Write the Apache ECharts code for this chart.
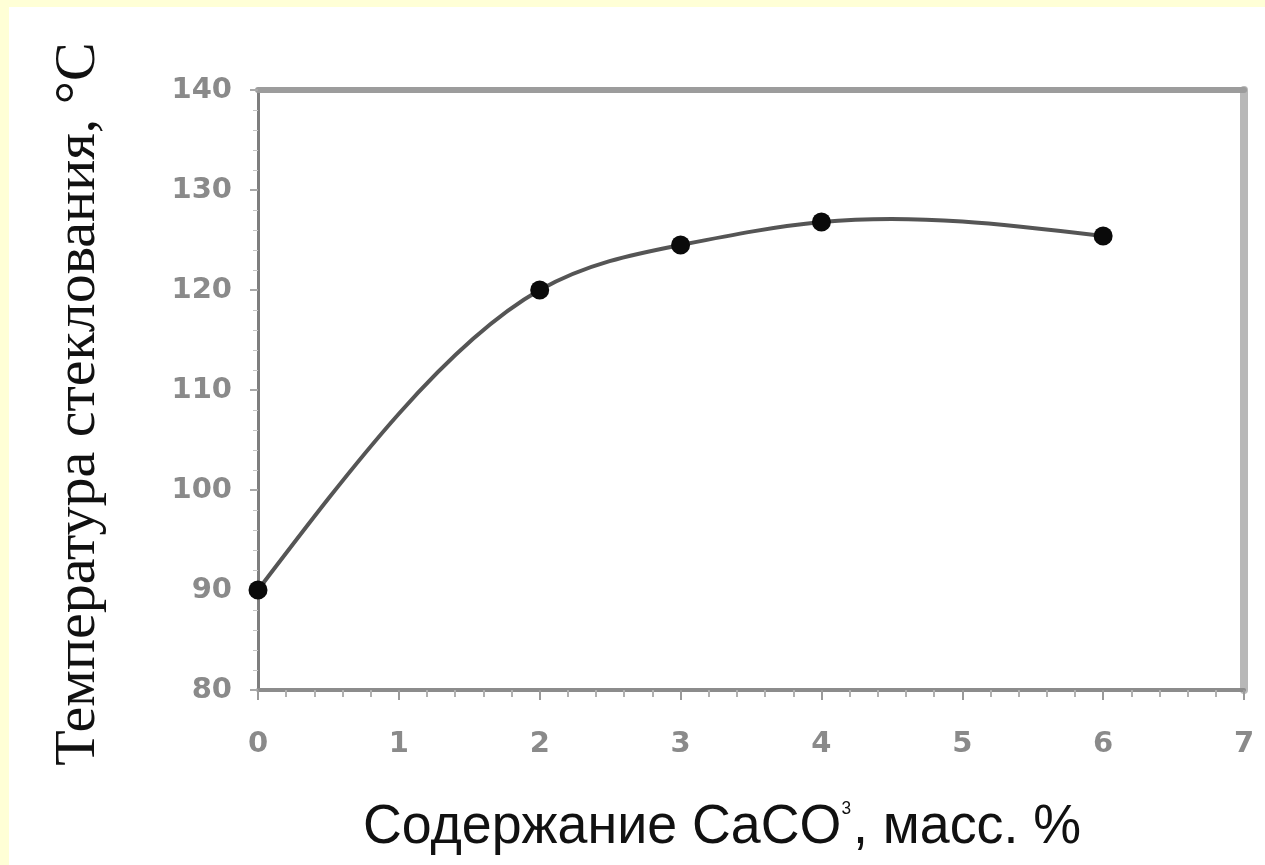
<!DOCTYPE html>
<html>
<head>
<meta charset="utf-8">
<script src="https://cdn.jsdelivr.net/npm/echarts@6/dist/echarts.min.js"></script>
<style>
  html, body { margin: 0; padding: 0; background: #ffffff; }
  #wrap { position: relative; width: 1265px; height: 865px; overflow: hidden; background: #ffffff; }
  #chart { position: absolute; left: 0; top: 0; width: 1265px; height: 865px; }
  .edge { position: absolute; background: #ffffd6; }
</style>
</head>
<body>
<div id="wrap">
  <div id="chart"></div>
  <div class="edge" style="left:0;top:0;width:1265px;height:7px;"></div>
  <div class="edge" style="left:0;top:0;width:9px;height:865px;"></div>
</div>
<script>
// Glass transition temperature vs. CaCO3 content
const contentPct = [0, 2, 3, 4, 6];                   // CaCO3, mass %
const glassTemp = [90.0, 120.0, 124.5, 126.8, 125.4]; // °C
const xTicks = { min: 0, max: 7, step: 1 };
const yTicks = { min: 80, max: 140, step: 10 };
const xTitle = 'Содержание CaCO{s|3}, масс. %';
const yTitle = 'Температура стеклования, °С';

const points = contentPct.map((x, i) => [x, glassTemp[i]]);

// Natural cubic spline through the measured points, expressed as one
// cubic Bezier per interval (control points in data units).
function splineBeziers(xs, ys) {
  const n = xs.length;
  const h = [], s = [];
  for (let i = 0; i < n - 1; i++) {
    h.push(xs[i + 1] - xs[i]);
    s.push((ys[i + 1] - ys[i]) / h[i]);
  }
  // tridiagonal system for second derivatives M (M[0] = M[n-1] = 0)
  const M = new Array(n).fill(0);
  const m = n - 2;
  if (m > 0) {
    const a = [], b = [], c = [], d = [];
    for (let i = 1; i <= m; i++) {
      a.push(h[i - 1]);
      b.push(2 * (h[i - 1] + h[i]));
      c.push(h[i]);
      d.push(6 * (s[i] - s[i - 1]));
    }
    for (let i = 1; i < m; i++) {
      const w = a[i] / b[i - 1];
      b[i] -= w * c[i - 1];
      d[i] -= w * d[i - 1];
    }
    const sol = new Array(m);
    sol[m - 1] = d[m - 1] / b[m - 1];
    for (let i = m - 2; i >= 0; i--) sol[i] = (d[i] - c[i] * sol[i + 1]) / b[i];
    for (let i = 0; i < m; i++) M[i + 1] = sol[i];
  }
  const segs = [];
  for (let i = 0; i < n - 1; i++) {
    const d0 = s[i] - h[i] * (2 * M[i] + M[i + 1]) / 6;
    const d1 = s[i] + h[i] * (M[i] + 2 * M[i + 1]) / 6;
    segs.push([
      [xs[i] + h[i] / 3, ys[i] + d0 * h[i] / 3],
      [xs[i + 1] - h[i] / 3, ys[i + 1] - d1 * h[i] / 3],
      [xs[i + 1], ys[i + 1]]
    ]);
  }
  return segs;
}

const curveSegs = splineBeziers(contentPct, glassTemp);

function renderCurve(params, api) {
  const p0 = api.coord(points[0]);
  let d = 'M' + p0[0] + ' ' + p0[1];
  curveSegs.forEach(seg => {
    const c1 = api.coord(seg[0]);
    const c2 = api.coord(seg[1]);
    const p = api.coord(seg[2]);
    d += ' C' + c1[0] + ' ' + c1[1] + ' ' + c2[0] + ' ' + c2[1] + ' ' + p[0] + ' ' + p[1];
  });
  return {
    type: 'path',
    shape: { pathData: d },
    style: { stroke: '#555555', lineWidth: 4, fill: null, lineJoin: 'round', lineCap: 'round' }
  };
}

const tickLabel = {
  color: '#8a8a8a',
  fontFamily: '"DejaVu Sans", Verdana, sans-serif',
  fontWeight: 'bold',
  fontSize: 29
};

const chart = echarts.init(document.getElementById('chart'), null, { renderer: 'canvas' });

chart.setOption({
  backgroundColor: '#ffffff',
  animation: false,
  grid: { left: 258, top: 90, right: 21, bottom: 175, containLabel: false },
  xAxis: [
    {
      type: 'value',
      position: 'bottom',
      min: xTicks.min, max: xTicks.max, interval: xTicks.step,
      axisLine: { show: true, onZero: false, lineStyle: { color: '#8c8c8c', width: 4 } },
      axisTick: { show: true, inside: false, length: 10, lineStyle: { color: '#9a9a9a', width: 2 } },
      minorTick: { show: true, splitNumber: 5, length: 7, lineStyle: { color: '#b0b0b0', width: 2 } },
      axisLabel: Object.assign({ margin: 40 }, tickLabel),
      splitLine: { show: false }
    },
    {
      type: 'value',
      position: 'top',
      min: xTicks.min, max: xTicks.max,
      axisLine: { show: true, onZero: false, lineStyle: { color: '#9c9c9c', width: 6 } },
      axisTick: { show: false },
      axisLabel: { show: false },
      splitLine: { show: false }
    }
  ],
  yAxis: [
    {
      type: 'value',
      position: 'left',
      min: yTicks.min, max: yTicks.max, interval: yTicks.step,
      axisLine: { show: true, onZero: false, lineStyle: { color: '#7e7e7e', width: 3 } },
      axisTick: { show: true, inside: false, length: 8, lineStyle: { color: '#a8a8a8', width: 2 } },
      minorTick: { show: true, splitNumber: 5, length: 5, lineStyle: { color: '#c4c4c4', width: 1 } },
      axisLabel: Object.assign({ margin: 26 }, tickLabel),
      splitLine: { show: false }
    },
    {
      type: 'value',
      position: 'right',
      min: yTicks.min, max: yTicks.max,
      axisLine: { show: true, onZero: false, lineStyle: { color: '#b8b8b8', width: 8 } },
      axisTick: { show: false },
      axisLabel: { show: false },
      splitLine: { show: false }
    }
  ],
  series: [
    {
      type: 'custom',
      xAxisIndex: 0,
      yAxisIndex: 0,
      data: [points[0]],
      renderItem: renderCurve,
      silent: true,
      z: 4
    },
    {
      type: 'scatter',
      xAxisIndex: 0,
      yAxisIndex: 0,
      data: points,
      symbol: 'circle',
      symbolSize: 19,
      itemStyle: { color: '#0a0a0a', opacity: 1 },
      z: 5
    }
  ],
  graphic: [
    {
      type: 'text',
      x: 722, y: 828,
      scaleX: 0.96, scaleY: 1,
      style: {
        text: xTitle,
        fill: '#111111',
        font: '56px "Liberation Sans", Arial, sans-serif',
        align: 'center',
        verticalAlign: 'middle',
        rich: {
          s: { fontSize: 18, fontFamily: 'Liberation Sans, Arial, sans-serif', fill: '#111111', verticalAlign: 'top', padding: [0, 2, 24, 0] }
        }
      }
    },
    {
      type: 'text',
      x: 79, y: 404,
      rotation: Math.PI / 2,
      style: {
        text: yTitle,
        fill: '#111111',
        font: '58px "Liberation Serif", "Times New Roman", serif',
        align: 'center',
        verticalAlign: 'middle'
      }
    }
  ]
});
</script>
</body>
</html>
